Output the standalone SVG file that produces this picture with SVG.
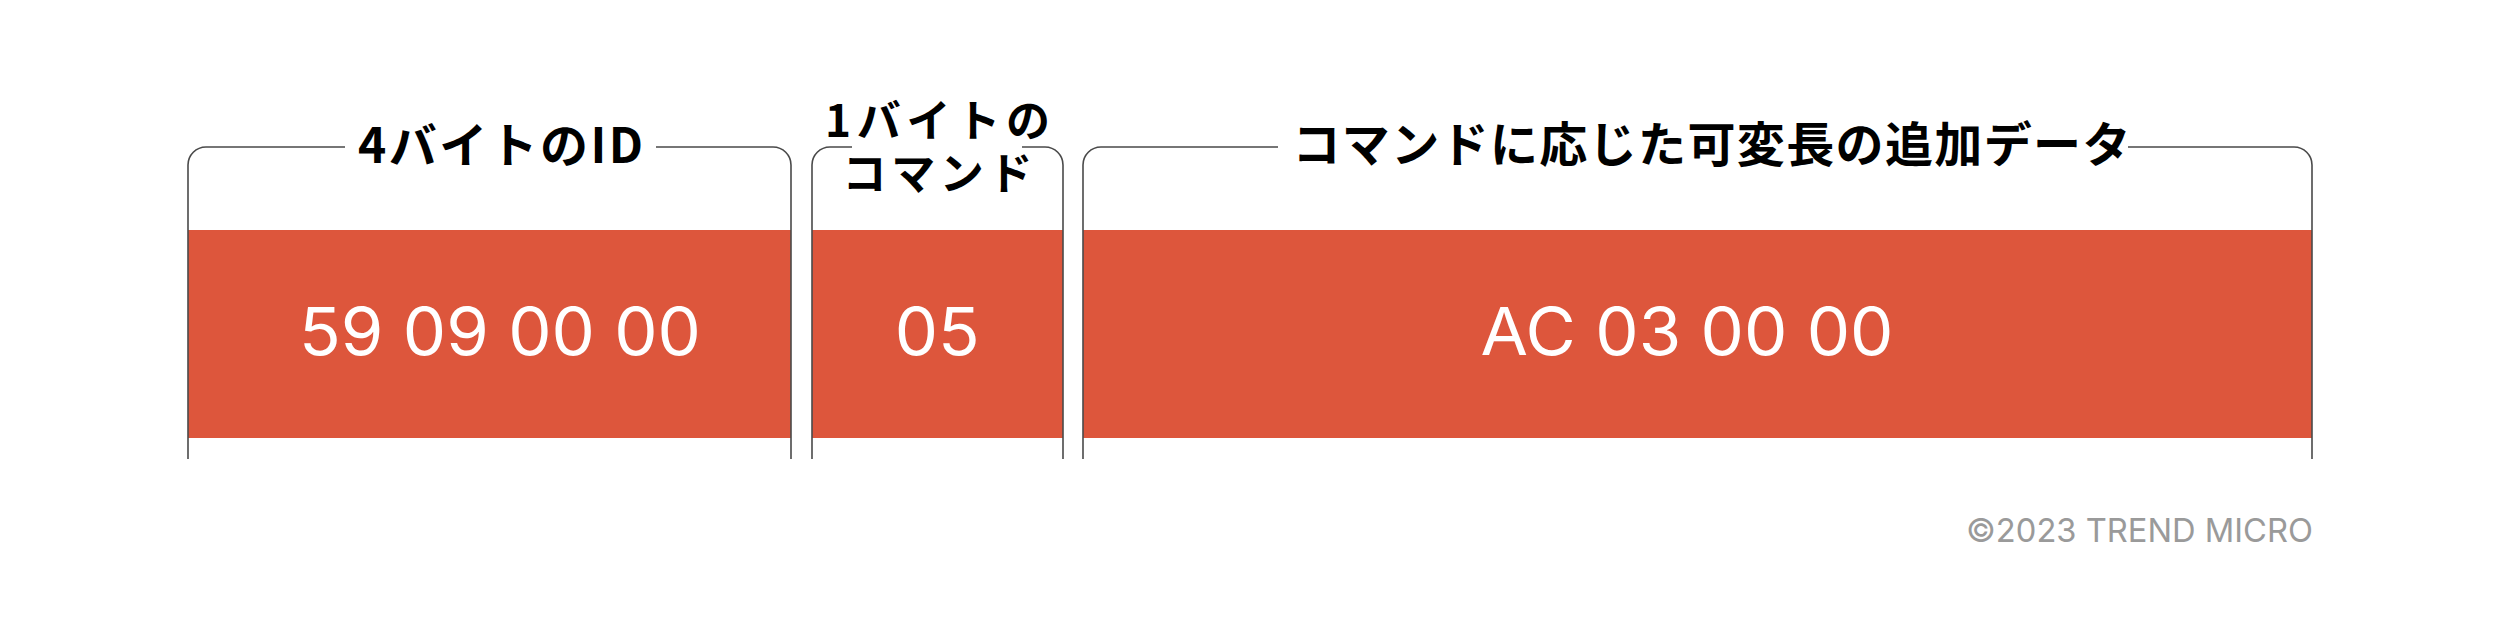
<svg xmlns="http://www.w3.org/2000/svg" width="2500" height="625" viewBox="0 0 2500 625">
<style>
.frame{fill:none;stroke:#4a4a4a;stroke-width:1.6}
.bar{fill:#DD563C}
.lbl{font-family:"Noto Sans CJK JP","Noto Sans",sans-serif;font-weight:700;fill:#000;text-anchor:middle}
.val{font-family:Inter,"Liberation Sans",sans-serif;font-weight:400;font-size:66px;fill:#fff;text-anchor:middle}
.copy{font-family:Inter,"Liberation Sans",sans-serif;font-size:33px;fill:#9a9a9a;text-anchor:end}
</style>
<rect width="2500" height="625" fill="#fff"/>
<g id="node-id">
<rect class="bar" x="188" y="230" width="603" height="208"/>
<text class="lbl" x="500.5" y="163" font-size="48" textLength="285" lengthAdjust="spacing">4バイトのID</text>
<text class="val" x="500" y="355" textLength="402" lengthAdjust="spacingAndGlyphs">59 09 00 00</text>
</g>
<g id="node-command">
<rect class="bar" x="812" y="230" width="251" height="208"/>
<text class="lbl" x="937.5" y="137" font-size="44" textLength="225" lengthAdjust="spacing">1バイトの</text>
<text class="lbl" x="937.5" y="190" font-size="44" textLength="190" lengthAdjust="spacing">コマンド</text>
<text class="val" x="937.3" y="355" textLength="85" lengthAdjust="spacingAndGlyphs">05</text>
</g>
<g id="node-data">
<rect class="bar" x="1083" y="230" width="1229" height="208"/>
<text class="lbl" x="1711.5" y="162" font-size="48" textLength="838" lengthAdjust="spacing">コマンドに応じた可変長の追加データ</text>
<text class="val" x="1687" y="355" textLength="413" lengthAdjust="spacingAndGlyphs">AC 03 00 00</text>
</g>
<g id="connectors">
<path class="frame" d="M188,459 V165 A18,18 0 0 1 206,147 H345 M656,147 H773 A18,18 0 0 1 791,165 V459"/>
<path class="frame" d="M812,459 V165 A18,18 0 0 1 830,147 H852 M1022,147 H1045 A18,18 0 0 1 1063,165 V459"/>
<path class="frame" d="M1083,459 V165 A18,18 0 0 1 1101,147 H1278 M2128,147 H2294 A18,18 0 0 1 2312,165 V459"/>
</g>
<text class="copy" x="2313" y="542" textLength="347" lengthAdjust="spacingAndGlyphs">©2023 TREND MICRO</text>
</svg>
